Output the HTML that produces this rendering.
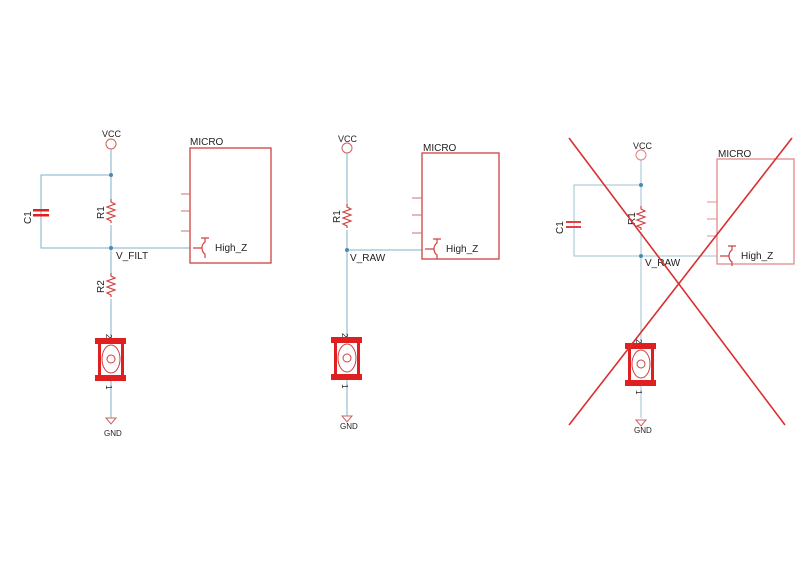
<!DOCTYPE html>
<html><head><meta charset="utf-8"><style>
body{margin:0;background:#fff}
svg{display:block}
text{font-family:"Liberation Sans",Arial,sans-serif;fill:#222}
</style></head><body>
<svg width="801" height="565" viewBox="0 0 801 565" xmlns="http://www.w3.org/2000/svg">
<defs>
<g id="sw">
<rect x="-16" y="0" width="31" height="6" fill="#e02020"/>
<rect x="-16" y="37" width="31" height="6" fill="#e02020"/>
<rect x="-13" y="6" width="3" height="31" fill="#e02020"/>
<rect x="10" y="6" width="3" height="31" fill="#e02020"/>
<ellipse cx="0" cy="21" rx="9" ry="14" fill="none" stroke="#d04040" stroke-width="1"/>
<circle cx="0" cy="21" r="4" fill="none" stroke="#d04040" stroke-width="1"/>
<text x="-5" y="-4" font-size="8" transform="rotate(90 -5 -4)">2</text>
<text x="-5" y="47" font-size="8" transform="rotate(90 -5 47)">1</text>
</g>
<polyline id="res" points="0,0 0,3 4,5 -4,8 4,11 -4,14 4,17 -4,20 0,22 0,24" fill="none" stroke="#d04040" stroke-width="1.2"/>
<g id="gnd"><polygon points="-5,0 5,0 0,6" fill="none" stroke="#d06060" stroke-width="1"/></g>
<g id="tr"><path d="M-4,-10 L4,-10 M0,-10 L0,-6 Q-3,-4 -3,0 Q-3,4 0,6 L0,10 M-3,0 L-12,0" fill="none" stroke="#d04040" stroke-width="1.2"/></g>
</defs>

<!-- Circuit 1 -->
<g stroke="#7fb0c8" stroke-width="1" fill="none">
<line x1="111" y1="149" x2="111" y2="338"/>
<line x1="111" y1="381" x2="111" y2="418"/>
<polyline points="111,175 41,175 41,248 190,248"/>
</g>
<rect x="105" y="199" width="12" height="26" fill="#fff"/>
<use href="#res" x="111" y="199"/>
<rect x="105" y="273" width="12" height="26" fill="#fff"/>
<use href="#res" x="111" y="273"/>
<circle cx="111" cy="144" r="5" fill="#fff" stroke="#d06060"/>
<circle cx="111" cy="175" r="2" fill="#4a8ab0"/>
<circle cx="111" cy="248" r="2" fill="#4a8ab0"/>
<rect x="33" y="209" width="16" height="2.5" fill="#e02020"/>
<rect x="33" y="214" width="16" height="2.5" fill="#e02020"/>
<use href="#sw" x="111" y="338"/>
<use href="#gnd" x="111" y="418"/>
<text x="102" y="137" font-size="9">VCC</text>
<text x="104" y="436" font-size="8">GND</text>
<text x="31" y="224" font-size="10" transform="rotate(-90 31 224)">C1</text>
<text x="104" y="219" font-size="10" transform="rotate(-90 104 219)">R1</text>
<text x="104" y="293" font-size="10" transform="rotate(-90 104 293)">R2</text>
<text x="116" y="259" font-size="10">V_FILT</text>
<rect x="190" y="148" width="81" height="115" fill="none" stroke="#d04040" stroke-width="1.3"/>
<g stroke="#d07070" stroke-width="1"><line x1="181" y1="194" x2="190" y2="194"/><line x1="181" y1="211" x2="190" y2="211"/><line x1="181" y1="231" x2="190" y2="231"/></g>
<use href="#tr" x="205" y="248"/>
<text x="190" y="145" font-size="10">MICRO</text>
<text x="215" y="251" font-size="10">High_Z</text>

<!-- Circuit 2 -->
<g stroke="#7fb0c8" stroke-width="1" fill="none">
<line x1="347" y1="153" x2="347" y2="337"/>
<line x1="347" y1="380" x2="347" y2="416"/>
<line x1="347" y1="250" x2="422" y2="250"/>
</g>
<rect x="341" y="204" width="12" height="26" fill="#fff"/>
<use href="#res" x="347" y="204"/>
<circle cx="347" cy="148" r="5" fill="#fff" stroke="#d06060"/>
<circle cx="347" cy="250" r="2" fill="#4a8ab0"/>
<use href="#sw" x="347" y="337"/>
<use href="#gnd" x="347" y="416"/>
<text x="338" y="142" font-size="9">VCC</text>
<text x="340" y="429" font-size="8">GND</text>
<text x="340" y="223" font-size="10" transform="rotate(-90 340 223)">R1</text>
<text x="350" y="261" font-size="10">V_RAW</text>
<rect x="422" y="153" width="77" height="106" fill="none" stroke="#d04040" stroke-width="1.3"/>
<g stroke="#d07070" stroke-width="1"><line x1="412" y1="198" x2="422" y2="198"/><line x1="412" y1="215" x2="422" y2="215"/><line x1="412" y1="233" x2="422" y2="233"/></g>
<use href="#tr" x="437" y="249"/>
<text x="423" y="151" font-size="10">MICRO</text>
<text x="446" y="252" font-size="10">High_Z</text>

<!-- Circuit 3 -->
<g stroke="#9cc0d2" stroke-width="1" fill="none">
<line x1="641" y1="160" x2="641" y2="343"/>
<line x1="641" y1="386" x2="641" y2="418"/>
<polyline points="641,185 574,185 574,256 717,256"/>
</g>
<rect x="635" y="206" width="12" height="26" fill="#fff"/>
<use href="#res" x="641" y="206"/>
<circle cx="641" cy="155" r="5" fill="#fff" stroke="#e08080"/>
<circle cx="641" cy="185" r="2" fill="#4a8ab0"/>
<circle cx="641" cy="256" r="2" fill="#4a8ab0"/>
<rect x="566" y="221" width="15" height="2" fill="#e04040"/>
<rect x="566" y="226" width="15" height="2" fill="#e04040"/>
<use href="#sw" x="641" y="343"/>
<use href="#gnd" x="641" y="420"/>
<text x="633" y="149" font-size="9">VCC</text>
<text x="634" y="433" font-size="8">GND</text>
<text x="563" y="234" font-size="10" transform="rotate(-90 563 234)">C1</text>
<text x="635" y="225" font-size="10" transform="rotate(-90 635 225)">R1</text>
<text x="645" y="266" font-size="10">V_RAW</text>
<rect x="717" y="159" width="77" height="105" fill="none" stroke="#e08080" stroke-width="1.2"/>
<g stroke="#e09090" stroke-width="1"><line x1="707" y1="202" x2="717" y2="202"/><line x1="707" y1="219" x2="717" y2="219"/><line x1="707" y1="236" x2="717" y2="236"/></g>
<use href="#tr" x="732" y="256"/>
<text x="718" y="157" font-size="10">MICRO</text>
<text x="741" y="259" font-size="10">High_Z</text>
<g stroke="#d83030" stroke-width="1.6">
<line x1="569" y1="138" x2="785" y2="425"/>
<line x1="792" y1="138" x2="569" y2="425"/>
</g>
</svg>
</body></html>
